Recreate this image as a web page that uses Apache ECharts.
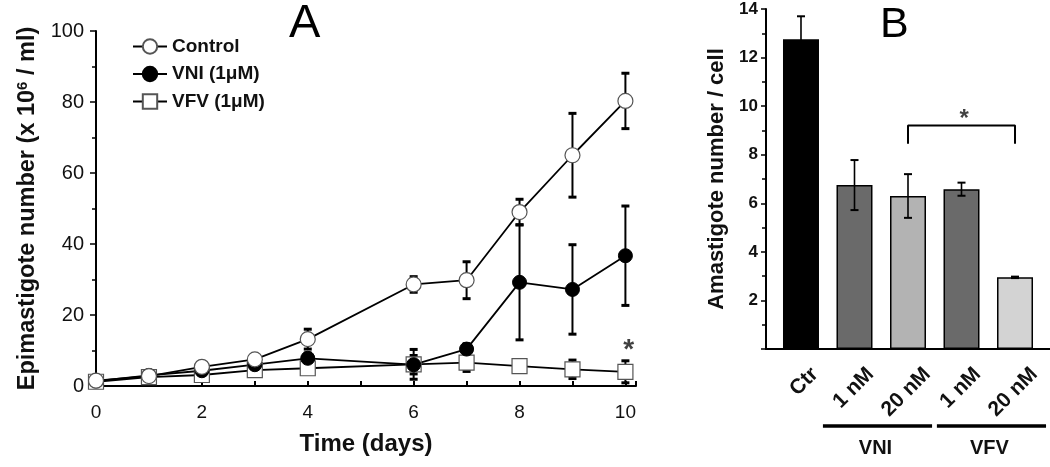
<!DOCTYPE html>
<html><head><meta charset="utf-8">
<script src="https://cdn.jsdelivr.net/npm/echarts@6/dist/echarts.min.js"></script>
<style>html,body{margin:0;padding:0;background:#fff}#c{width:1050px;height:467px}</style>
</head><body><div id="c"></div>
<script>
// ---- Panel A data ----
const days = [0, 1, 2, 3, 4, 6, 7, 8, 9, 10];
const controlMean = [1.5, 2.8, 5.4, 7.5, 13.2, 28.6, 29.8, 49.0, 65.0, 80.3];
const controlErr  = [0.3, 0.4, 0.6, 0.8, 2.8, 2.2, 5.2, 3.6, 11.8, 7.8];
const vniMean = [1.4, 3.0, 4.3, 6.0, 7.8, 6.0, 10.4, 29.2, 27.2, 36.7];
const vniErr  = [0.3, 0.5, 0.6, 0.8, 1.5, 2.6, 1.5, 16.2, 12.6, 14.0];
const vfvMean = [1.2, 2.5, 3.1, 4.5, 5.0, 6.1, 6.6, 5.6, 4.7, 4.0];
const vfvErr  = [0.3, 0.4, 0.5, 0.6, 0.8, 4.2, 2.5, 0.6, 2.6, 3.1];
const seriesNamesA = ['Control', 'VNI (1\u03bcM)', 'VFV (1\u03bcM)'];
const sigA = [10.06, 10.2];

// ---- Panel B data ----
const barCats = ['Ctr', '1 nM', '20 nM', '1 nM', '20 nM'];
const barMean = [12.75, 6.75, 6.3, 6.58, 2.95];
const barErr  = [0.95, 1.03, 0.9, 0.27, 0.03];
const barColors = ['#000000', '#6a6a6a', '#b3b3b3', '#6a6a6a', '#d3d3d3'];
const groupNames = ['VNI', 'VFV'];
const groupSpans = [[0.41, 2.45], [2.54, 4.58]];
const bracketB = [[2, 8.45], [2, 9.2], [4, 9.2], [4, 8.45]];
const sigB = [3.05, 9.45];

const FONT = '"Liberation Sans", Arial, Helvetica, sans-serif';
const chart = echarts.init(document.getElementById('c'), null, {renderer: 'canvas'});

function errRender(capHalf, lw, capW) {
  return function (params, api) {
    const x = api.value(0), lo = api.value(1), hi = api.value(2);
    const p1 = api.coord([x, hi]), p2 = api.coord([x, lo]);
    const st = {stroke: '#000', lineWidth: lw};
    const cs = {stroke: '#000', lineWidth: capW};
    return {type: 'group', children: [
      {type: 'line', shape: {x1: p1[0], y1: p1[1], x2: p2[0], y2: p2[1]}, style: st},
      {type: 'line', shape: {x1: p1[0] - capHalf, y1: p1[1], x2: p1[0] + capHalf, y2: p1[1]}, style: cs},
      {type: 'line', shape: {x1: p2[0] - capHalf, y1: p2[1], x2: p2[0] + capHalf, y2: p2[1]}, style: cs}
    ]};
  };
}
function errData(xs, m, e) { return xs.map((x, i) => [x, m[i] - e[i], m[i] + e[i]]); }
function pts(xs, m) { return xs.map((x, i) => [x, m[i]]); }

const lineCommon = {type: 'line', xAxisIndex: 0, yAxisIndex: 0, z: 3,
  lineStyle: {color: '#000', width: 1.8}, emphasis: {disabled: true}};

const option = {
  animation: false,
  backgroundColor: '#fff',
  textStyle: {fontFamily: FONT},
  title: [
    {text: 'A', left: 284, top: -4, textStyle: {fontFamily: FONT, fontSize: 47, fontWeight: 'normal', color: '#000'}},
    {text: 'B', left: 875, top: -1, textStyle: {fontFamily: FONT, fontSize: 43, fontWeight: 'normal', color: '#000'}}
  ],
  legend: {
    left: 132, top: 37, padding: 0, orient: 'vertical', itemWidth: 34, itemHeight: 18, itemGap: 8.5,
    textStyle: {fontFamily: FONT, fontSize: 19, fontWeight: 'bold', color: '#111'},
    data: seriesNamesA
  },
  grid: [
    {left: 96, top: 31, width: 540, height: 355},
    {left: 766, top: 9, width: 284, height: 340}
  ],
  xAxis: [
    {type: 'value', gridIndex: 0, min: 0, max: 10.2, interval: 1,
      axisLine: {onZero: false, lineStyle: {color: '#000', width: 2}},
      axisTick: {inside: true, length: 5, lineStyle: {color: '#000', width: 2}},
      axisLabel: {margin: 17, fontSize: 19, color: '#111', fontFamily: FONT,
        formatter: v => (Number.isInteger(v) && v % 2 === 0) ? String(v) : ''},
      splitLine: {show: false},
      name: 'Time (days)', nameLocation: 'middle', nameGap: 46,
      nameTextStyle: {fontSize: 24, fontWeight: 'bold', color: '#111', fontFamily: FONT}},
    {type: 'value', gridIndex: 1, min: -0.654, max: 4.654,
      axisLine: {onZero: false, lineStyle: {color: '#000', width: 2}},
      axisTick: {show: false},
      axisLabel: {customValues: [0.26, 1.3, 2.36, 3.3, 4.36], rotate: 45, margin: 22,
        fontSize: 21, fontWeight: 'bold', color: '#111', fontFamily: FONT,
        formatter: v => barCats[Math.round(v - 0.3)]},
      splitLine: {show: false}}
  ],
  yAxis: [
    {type: 'value', gridIndex: 0, min: 0, max: 100, interval: 20,
      axisLine: {show: true, onZero: false, lineStyle: {color: '#000', width: 2}},
      axisTick: {show: true, inside: false, length: 6, lineStyle: {color: '#000', width: 1.5}},
      minorTick: {show: true, splitNumber: 2, length: 4, lineStyle: {color: '#000', width: 1.5}},
      axisLabel: {margin: 12, fontSize: 20, color: '#111', fontFamily: FONT},
      splitLine: {show: false},
      name: 'Epimastigote number (x 10{s|6} / ml)', nameLocation: 'middle', nameGap: 55,
      nameTextStyle: {fontSize: 23.5, fontWeight: 'bold', color: '#111', fontFamily: FONT,
        rich: {s: {fontSize: 15, fontWeight: 'bold', verticalAlign: 'top', padding: [0, 0, 9, 0], fontFamily: FONT, color: '#111'}}}},
    {type: 'value', gridIndex: 1, min: 0, max: 14, interval: 2,
      axisLine: {show: true, onZero: false, lineStyle: {color: '#000', width: 2}},
      axisTick: {show: true, inside: false, length: 5, lineStyle: {color: '#000', width: 1.5}},
      minorTick: {show: true, splitNumber: 2, length: 4, lineStyle: {color: '#000', width: 1.5}},
      axisLabel: {margin: 8, fontSize: 17, fontWeight: 'bold', color: '#111', fontFamily: FONT,
        formatter: v => v === 0 ? '' : String(v)},
      splitLine: {show: false},
      name: 'Amastigote number / cell', nameLocation: 'middle', nameGap: 38,
      nameTextStyle: {fontSize: 22, fontWeight: 'bold', color: '#111', fontFamily: FONT}}
  ],
  series: [
    {type: 'custom', xAxisIndex: 0, yAxisIndex: 0, z: 2, renderItem: errRender(4, 2, 3),
      data: errData(days, controlMean, controlErr), encode: {x: 0, y: [1, 2]}, silent: true},
    {type: 'custom', xAxisIndex: 0, yAxisIndex: 0, z: 2, renderItem: errRender(4, 2, 3),
      data: errData(days, vniMean, vniErr), encode: {x: 0, y: [1, 2]}, silent: true},
    {type: 'custom', xAxisIndex: 0, yAxisIndex: 0, z: 2, renderItem: errRender(4, 2, 3),
      data: errData(days, vfvMean, vfvErr), encode: {x: 0, y: [1, 2]}, silent: true},
    Object.assign({}, lineCommon, {name: seriesNamesA[2], data: pts(days, vfvMean), symbol: 'rect', symbolSize: 15,
      itemStyle: {color: '#fff', borderColor: '#555', borderWidth: 1.2}}),
    Object.assign({}, lineCommon, {name: seriesNamesA[1], data: pts(days, vniMean), symbol: 'circle', symbolSize: 14,
      itemStyle: {color: '#000', borderColor: '#000', borderWidth: 1}}),
    Object.assign({}, lineCommon, {name: seriesNamesA[0], data: pts(days, controlMean), symbol: 'circle', symbolSize: 15,
      itemStyle: {color: '#fff', borderColor: '#555', borderWidth: 1.2}}),
    {type: 'scatter', xAxisIndex: 0, yAxisIndex: 0, data: [sigA], symbolSize: 1,
      itemStyle: {color: 'rgba(0,0,0,0)'}, silent: true,
      label: {show: true, position: 'inside', formatter: '*', fontSize: 28, fontWeight: 'bold', color: '#111', fontFamily: FONT}},
    // Panel B
    {type: 'bar', xAxisIndex: 1, yAxisIndex: 1, barWidth: 36, z: 2,
      data: barMean.map((v, i) => ({value: [i, v], itemStyle: {color: barColors[i]}})),
      itemStyle: {borderColor: '#000', borderWidth: 1.5}, emphasis: {disabled: true}},
    {type: 'custom', xAxisIndex: 1, yAxisIndex: 1, z: 4, renderItem: errRender(4, 1.6, 2),
      data: errData(barMean.map((v, i) => i), barMean, barErr), encode: {x: 0, y: [1, 2]}, silent: true},
    {type: 'line', xAxisIndex: 1, yAxisIndex: 1, data: bracketB, symbol: 'none', z: 4,
      lineStyle: {color: '#000', width: 2}, silent: true},
    {type: 'scatter', xAxisIndex: 1, yAxisIndex: 1, data: [sigB], symbolSize: 1,
      itemStyle: {color: 'rgba(0,0,0,0)'}, silent: true,
      label: {show: true, position: 'inside', formatter: '*', fontSize: 24, fontWeight: 'bold', color: '#111', fontFamily: FONT}}
  ]
};
chart.setOption(option);

// group labels under panel B
const graphics = [];
groupNames.forEach((g, i) => {
  const a = chart.convertToPixel({xAxisIndex: 1, yAxisIndex: 1}, [groupSpans[i][0], 0]);
  const b = chart.convertToPixel({xAxisIndex: 1, yAxisIndex: 1}, [groupSpans[i][1], 0]);
  graphics.push({type: 'line', shape: {x1: a[0], y1: 426, x2: b[0], y2: 426}, style: {stroke: '#000', lineWidth: 3.5}});
  graphics.push({type: 'text', x: (a[0] + b[0]) / 2 - 2, y: 448,
    style: {text: g, fontSize: 20, fontWeight: 'bold', fill: '#111', fontFamily: FONT, align: 'center', verticalAlign: 'middle'}});
});
chart.setOption({graphic: graphics});
</script></body></html>
